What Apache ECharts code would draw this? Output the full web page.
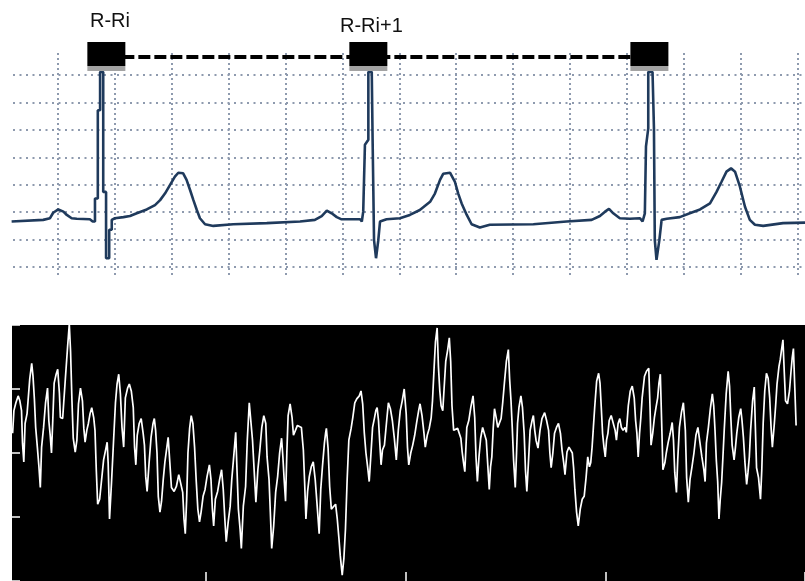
<!DOCTYPE html>
<html>
<head>
<meta charset="utf-8">
<script src="https://cdn.jsdelivr.net/npm/echarts@6/dist/echarts.min.js"></script>
<style>
html, body { margin: 0; padding: 0; background: #fff; }
#chart { width: 805px; height: 581px; }
</style>
</head>
<body>
<div id="chart"></div>
<script>
// ECG trace, [time ms, voltage mV]
var ecgBeat1 = [[37,-0.17],[148,-0.14],[172,-0.11],[183,-0.01],[201,0.05],[219,0.01],[231,-0.05],[248,-0.11],[266,-0.12],[312,-0.13],
	[322,-0.17],[330,-0.17],[330,0.25],[340,0.25],[340,1.86],[348,1.86],[348,2.56],[359,2.56],[359,0.37],[369,0.37],
	[369,-0.84],[380,-0.84],[380,-0.32],[389,-0.32],[389,-0.14],[400,-0.11],[430,-0.09],[453,-0.07],[477,-0.02],[512,0.05],
	[541,0.13],[559,0.22],[576,0.34],[594,0.50],[611,0.65],[623,0.72],[640,0.71],[652,0.59],[664,0.41],[676,0.22],
	[688,0.04],[699,-0.11],[717,-0.22],[746,-0.25],[816,-0.22],[934,-0.20],[1051,-0.17]];
var ecgBeat2 = [[1103,-0.14],[1127,-0.07],[1145,0.03],[1162,-0.02],[1180,-0.09],[1197,-0.13],[1262,-0.13],[1268,-0.17],[1273,0.01],[1279,1.23],
	[1291,1.32],[1291,2.56],[1303,2.56],[1306,1.32],[1311,-0.51],[1318,-0.84],[1326,-0.51],[1332,-0.17],[1355,-0.13],[1402,-0.11],
	[1437,-0.05],[1472,0.04],[1508,0.19],[1525,0.34],[1543,0.59],[1554,0.70],[1578,0.72],[1595,0.56],[1607,0.34],[1619,0.16],
	[1637,-0.05],[1654,-0.22],[1683,-0.28],[1718,-0.23],[1871,-0.22],[1988,-0.17]];
var ecgBeat3 = [[2076,-0.14],[2105,-0.07],[2123,0.01],[2137,0.06],[2152,-0.02],[2175,-0.11],[2210,-0.12],[2246,-0.11],[2255,-0.17],[2263,-0.02],
	[2267,1.20],[2275,1.53],[2275,2.56],[2290,2.56],[2295,1.53],[2298,-0.51],[2304,-0.87],[2314,-0.51],[2322,-0.14],[2340,-0.12],
	[2386,-0.09],[2421,-0.02],[2457,0.05],[2492,0.16],[2515,0.37],[2533,0.56],[2550,0.74],[2566,0.80],[2580,0.74],[2597,0.47],
	[2615,0.10],[2632,-0.14],[2650,-0.23],[2679,-0.25],[2749,-0.20],[2826,-0.19]];

// R peak markers
var rPeakTimes = [370, 1291, 2279];
var rMarkLevel = 2.83;
var rLabels = ['R-Ri', 'R-Ri+1'];

// lower trace, [sample position, amplitude]
var sigA = [[6.7,150],[8,173],[10,181],[12.3,188],[14,183],[15.7,173],[16.7,140],[18,121],[19.3,160],[21.3,170],
	[22.3,183],[24,205],[26,221],[27.3,208],[28.7,185],[30,156],[31.7,136],[33.3,116],[34.7,95],[36,136],
	[38,156],[40,181],[42,196],[43.3,163],[44.7,148],[46,130],[47.3,163],[48.7,201],[50.7,210],[52.3,215],
	[54,191],[55,166],[57.3,165],[58.3,180],[60,205],[62.3,238],[64,261],[65.3,233],[66.7,183],[68,145],
	[70,131],[71.7,143],[73.3,180],[75.3,196],[77.3,183],[78.7,155],[80,141],[81.7,153],[83.3,160],[85,170],
	[86.7,176],[88.7,166],[90,153],[91.3,113],[92.7,78],[94.7,83],[96.7,103],[98.7,123],[100.7,133],[102.3,141],
	[103.3,120],[104.7,63],[106.7,100],[108.7,141],[110.7,181],[112.3,200],[114,210],[115.7,190],[117.3,156],[119,136],
	[120.7,186],[123,196],[124.7,200],[126.7,193],[128.7,176],[130,136],[131.3,118],[132.7,148],[134.7,160],[136.7,165],
	[138.7,150],[140,138],[141.3,106],[142.7,91],[144.7,120],[146.7,146],[148.7,160],[150,165],[151.3,153],[152.7,130],
	[154,86],[155.7,70],[157.3,81],[159,103],[160.7,121],[162.7,136]];
var sigB = [[164,146],[165.7,120],[167.3,95],[170,91],[172.3,96],[174.7,108],[176.7,106],[178.7,90],[180,63],[181.3,48],
	[182.7,83],[184,130],[185.7,155],[187.3,168],[189,160],[190.7,136],[192.3,103],[194,73],[195.7,60],[197.3,70],
	[199.3,86],[201.3,93],[203.3,106],[205.7,118],[207.3,103],[208.7,73],[210,56],[211.7,83],[214,91],[216,103],
	[218,113],[219.7,93],[221.3,63],[222.7,40],[224.7,60],[226.7,76],[228.3,103],[230,123],[232.3,151],[233.7,110],
	[235,73],[236.7,53],[238,33],[240,76],[242.3,96],[244,143],[246,181],[247.3,166],[249.3,143],[251.3,106],
	[252.7,80],[254.7,113],[256.7,133],[258.7,156],[260.7,168],[262.7,160],[264,126],[266,103],[267.3,70],[268.7,33],
	[270.7,56],[272.7,90],[274.7,106],[276.7,130],[278.7,145],[280,126],[281.3,103],[282.7,81],[284,130],[285.3,168],
	[287.3,180],[289.3,166],[290.7,148],[292.7,153],[294.7,158],[296.7,160],[298.7,156],[300.7,133],[302,100],[303.3,63],
	[305,91],[306.7,106],[308.7,116],[310.7,121],[312.7,103],[314.7,76],[316.7,48],[318.3,93],[320,116],[322,140],[323.3,151]];
var sigC = [[324,155],[325.7,135],[327.3,96],[329,73],[330.7,71],[333.3,78],[335,63],[336.7,43],[338,26],[340,6],
	[341.7,23],[343.3,53],[345,103],[346.7,143],[349,155],[350.7,166],[352.7,181],[354.7,185],[357.3,188],[359,193],
	[360.7,180],[362.3,151],[364,130],[365.7,116],[367.3,101],[369,128],[370.7,156],[372.7,166],[374,173],[375.3,176],
	[376.7,163],[378,140],[379.3,118],[380.7,133],[382.7,138],[384.7,160],[386.7,181],[388.7,175],[390.7,163],[392.7,145],
	[394.7,123],[396.7,153],[398.7,173],[400.7,183],[402.7,195],[404.7,170],[406,136],[407.3,118],[409.3,130],[411.3,138],
	[413.3,148],[415.3,161],[417.3,173],[418.7,180],[420.7,168],[422.7,150],[424,136],[426,148],[428,155],[430,166],
	[431.3,183],[433,218],[434.3,243],[436,257],[437.3,218],[438.7,193],[440,178],[441.7,173],[443,195],[444.7,223],
	[446.7,235],[448.3,247],[449.7,223],[451,178],[452.7,153],[454.7,151],[456.7,155],[458.7,156],[460,145],[461.3,131],
	[462.7,120],[464,111],[466,156],[468,163],[470,176],[472.3,188],[474,166],[475.3,126],[476.7,101],[478.3,126],[480,145],[482,156]];
var sigD = [[484,155],[485.7,143],[487.3,116],[488.7,93],[490,116],[491.3,126],[492.7,155],[494,175],[495.7,166],[497.3,156],
	[499,158],[500.7,165],[502.3,181],[504,201],[506,223],[508,235],[509.3,205],[510.7,183],[512,155],[513.3,123],
	[515,95],[516.3,130],[517.3,160],[518.7,176],[520.7,188],[522.3,176],[524,150],[525.3,113],[526.7,91],[528.3,120],
	[530,153],[532,163],[533.3,168],[534.7,153],[536,143],[538,135],[540,153],[542,165],[544.7,171],[546.7,163],
	[548.7,153],[550,130],[551.3,115],[553,130],[554.7,150],[556.7,156],[558.7,160],[560.7,150],[562.3,133],[564,120],
	[565.3,108],[567.3,131],[569.3,136],[571.3,136],[572.7,130],[574,115],[575.3,93],[577,70],[578.7,56],[580.7,73],
	[582.7,83],[584.7,86],[586.7,106],[588.3,126],[590,116],[591.3,120],[592.7,136],[594,156],[595.3,176],[597.3,203],
	[599.3,211],[600.7,201],[602,176],[603.3,150],[604.7,136],[606,126],[607.3,143],[608.7,150],[610,163],[612,168],
	[614,166],[616,153],[617.3,143],[619,160],[620.7,165],[622.3,156],[624,153],[626,156],[627.3,151],[629.3,178],
	[631.3,193],[633.3,198],[635.3,186],[636.7,163],[638,150],[639.3,126],[640.7,150],[642,166],[643.3,186]];
var sigE = [[645.7,208],[647.7,213],[650,216],[651.3,176],[652.3,138],[654,150],[655.7,166],[657.3,176],[659,186],[660.3,201],
	[661.7,210],[663,163],[664.3,113],[666.3,120],[667.7,130],[669.7,141],[671.7,150],[673.7,161],[675,143],[676.3,110],
	[678,90],[679.3,123],[681,156],[683,171],[685,181],[687,153],[688.3,105],[690,80],[691.7,103],[693.7,116],
	[695.7,130],[697.7,148],[699.7,156],[701.7,141],[703.7,126],[705.7,113],[707,101],[708.3,140],[710.3,156],[712.3,175],
	[714.3,190],[715.7,178],[717,153],[718.3,123],[719.7,101],[721,63],[722.3,83],[723.7,100],[725,126],[726.3,153],
	[728.3,190],[730.3,213],[731.7,198],[733,166],[734.3,138],[736.3,123],[737.7,136],[739,150],[741,166],[743,175],
	[744.3,163],[745.7,146],[747.3,120],[749,98],[750.3,110],[751.7,126],[753,153],[755,183],[756.7,197],[757.7,160],
	[759,115],[761,105],[763,83],[764.3,113],[765.7,160],[767.3,193],[769,211],[770.7,206],[772.3,186],[773.7,156],
	[775,136],[777,160],[778.3,178],[779.7,200],[781.7,218],[783,225],[784.3,235],[785.7,245],[787,213],[788.3,183],
	[790.3,180],[792.3,193],[793.7,211],[795,226],[796.3,236],[797.7,196],[799,158]];

var ecgData = ecgBeat1.concat(ecgBeat2, ecgBeat3);
var sigData = sigA.concat(sigB, sigC, sigD, sigE);
var rMarks = rPeakTimes.map(function(t){ return [t, rMarkLevel]; });

var gridDots = '#8e9aae';
var noAxis = { show: false };

var chart = echarts.init(document.getElementById('chart'));
var option = {
	animation: false,
	backgroundColor: '#fff',
	grid: [
		{ left: 1.1, right: 0, top: 53, height: 225 },
		{ left: 13, right: 0, top: 47.8, height: 246.6 },
		{ left: 1.1, right: 0, top: 47.8, height: 246.6 },
		{ left: 12, right: 0, top: 325, height: 260, show: true, backgroundColor: '#000', borderWidth: 0 },
		{ left: 6, right: -9, top: 325, height: 260 }
	],
	xAxis: [
		{
			type: 'value', gridIndex: 0, min: 0, max: 2826, interval: 200,
			axisLine: noAxis, axisTick: noAxis, axisLabel: noAxis,
			splitLine: { show: true, showMinLine: false, showMaxLine: false,
				lineStyle: { color: gridDots, width: 2, type: [2, 3] } }
		},
		{ type: 'value', gridIndex: 1, min: 0, max: 1, show: false },
		{ type: 'value', gridIndex: 2, min: 0, max: 2826, show: false },
		{
			type: 'value', gridIndex: 3, min: 0, max: 1, position: 'top',
			axisLine: { show: true, lineStyle: { color: '#b8b8b8', width: 1 } },
			axisTick: noAxis, axisLabel: noAxis, splitLine: noAxis
		},
		{
			type: 'value', gridIndex: 4, min: 0, max: 808, interval: 202,
			axisLine: noAxis, axisLabel: noAxis, splitLine: noAxis,
			axisTick: { show: true, inside: true, length: 9, lineStyle: { color: '#fff', width: 1.5 } }
		}
	],
	yAxis: [
		{ type: 'value', gridIndex: 0, min: 0, max: 1, show: false },
		{
			type: 'value', gridIndex: 1, min: -1.5, max: 3, interval: 0.5,
			axisLine: noAxis, axisTick: noAxis, axisLabel: noAxis,
			splitLine: { show: true, showMinLine: false, showMaxLine: false,
				lineStyle: { color: gridDots, width: 2, type: [2, 4.5] } }
		},
		{ type: 'value', gridIndex: 2, min: -1.5, max: 3, show: false },
		{
			type: 'value', gridIndex: 3, min: 0, max: 260, interval: 65,
			axisLine: noAxis, axisLabel: noAxis, splitLine: noAxis,
			axisTick: { show: true, inside: true, length: 8, lineStyle: { color: '#fff', width: 1.5 } }
		},
		{ type: 'value', gridIndex: 4, min: 0, max: 260, show: false }
	],
	graphic: [
		{ type: 'text', left: 90, top: 11, style: { text: rLabels[0], fill: '#111', font: '20px "Liberation Sans", Arial, sans-serif' } },
		{ type: 'text', left: 340, top: 16, style: { text: rLabels[1], fill: '#111', font: '20px "Liberation Sans", Arial, sans-serif' } }
	],
	series: [
		{
			name: 'ECG', type: 'line', xAxisIndex: 2, yAxisIndex: 2,
			data: ecgData, symbol: 'none', z: 3,
			lineStyle: { color: '#1f3a5c', width: 2.6 }
		},
		{
			name: 'RR', type: 'line', xAxisIndex: 2, yAxisIndex: 2,
			data: [rMarks[0], rMarks[rMarks.length - 1]], symbol: 'none', z: 4,
			lineStyle: { color: '#000', width: 4, type: [12, 4] }
		},
		{
			name: 'R box', type: 'scatter', xAxisIndex: 2, yAxisIndex: 2,
			data: rMarks, symbol: 'rect', symbolSize: [38, 24], symbolOffset: [0, -3], z: 5,
			itemStyle: { color: '#000', opacity: 1 }
		},
		{
			name: 'R box base', type: 'scatter', xAxisIndex: 2, yAxisIndex: 2,
			data: rMarks, symbol: 'rect', symbolSize: [38, 5], symbolOffset: [0, 11.5], z: 5,
			itemStyle: { color: '#a3a3a3', opacity: 1 }
		},
		{
			name: 'signal', type: 'line', xAxisIndex: 4, yAxisIndex: 4,
			data: sigData, symbol: 'none', z: 3,
			lineStyle: { color: '#fff', width: 1.7 }
		}
	]
};
chart.setOption(option);
</script>
</body>
</html>
